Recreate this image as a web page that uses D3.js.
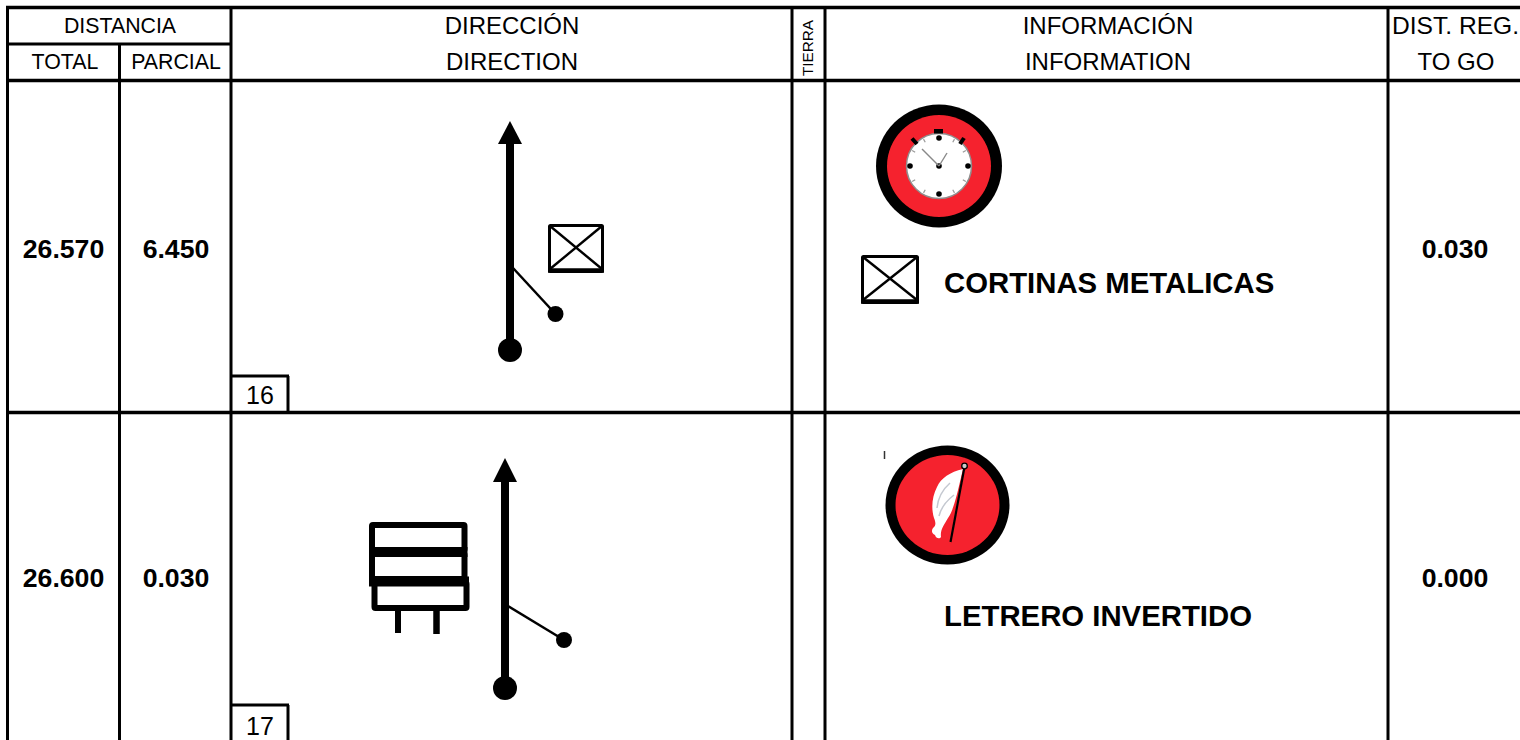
<!DOCTYPE html>
<html>
<head>
<meta charset="utf-8">
<script src="https://cdnjs.cloudflare.com/ajax/libs/d3/7.8.5/d3.min.js"></script>
<style>
html,body{margin:0;padding:0;background:#fff;overflow:hidden}
svg{display:block}
text{font-family:"Liberation Sans",Arial,sans-serif;fill:#000}
</style>
</head>
<body>
<svg id="chart" width="1520" height="740"></svg>
<script>
const totals = ["26.570", "26.600"];
const parciales = ["6.450", "0.030"];
const toGo = ["0.030", "0.000"];
const notes = ["CORTINAS METALICAS", "LETRERO INVERTIDO"];
const boxNumbers = ["16", "17"];
const headerTop = ["DISTANCIA", "DIRECCIÓN", "INFORMACIÓN", "DIST. REG."];
const headerBottom = ["TOTAL", "PARCIAL", "DIRECTION", "INFORMATION", "TO GO"];
const landLabel = "TIERRA";

const svg = d3.select("#chart");
const bold = 26.67, noteSize = 29.33;
const L = (s, x1, y1, x2, y2, w = 3) => s.append("line").attr("x1", x1).attr("y1", y1).attr("x2", x2).attr("y2", y2).attr("stroke", "#000").attr("stroke-width", w);
const T = (s, t, x, y, size, o = {}) => s.append("text").text(t).attr("x", x).attr("y", y).attr("font-size", size)
  .attr("text-anchor", o.anchor || "middle").attr("font-weight", o.weight || "normal");
const R = (s, x, y, w, h, sw, fill = "none") => s.append("rect").attr("x", x).attr("y", y).attr("width", w).attr("height", h)
  .attr("fill", fill).attr("stroke", "#000").attr("stroke-width", sw);
const C = (s, x, y, r, fill = "#000") => s.append("circle").attr("cx", x).attr("cy", y).attr("r", r).attr("fill", fill);

/* grid */
const g = svg.append("g");
L(g, 6, 7.5, 1520, 7.5, 3.4);
L(g, 6, 80.5, 1520, 80.5, 3.4);
L(g, 8, 44, 231, 44, 3);
L(g, 6, 412.5, 1520, 412.5, 3.4);
[7.5, 231, 792, 825, 1388].forEach(x => L(g, x, 6, x, 740, 3));
L(g, 119.5, 44, 119.5, 740, 3);

/* headers */
const hTopX = [120, 512, 1108, 1392];
const hTopSize = [21.33, 24, 24, 24.6];
headerTop.forEach((t, i) => T(svg, t, hTopX[i], 33 + (i ? 0.5 : 0), hTopSize[i], {anchor: i === 3 ? "start" : "middle"}));
const hBotX = [65, 176, 512, 1108, 1456];
const hBotSize = [21.33, 21.33, 24, 24, 24];
headerBottom.forEach((t, i) => T(svg, t, hBotX[i], 69 + (i > 1 ? 1 : 0), hBotSize[i]));
T(svg, landLabel, 0, 0, 15.3).attr("transform", "translate(813,48) rotate(-90)");

/* rows */
const baseY = [258, 587], noteY = [293, 626], boxTop = [376, 705], boxBase = [404, 735];
totals.forEach((t, i) => {
  T(svg, t, 63.5, baseY[i], bold, {weight: "bold"});
  T(svg, parciales[i], 176, baseY[i], bold, {weight: "bold"});
  T(svg, toGo[i], 1455, baseY[i], bold, {weight: "bold"});
  T(svg, notes[i], 944, noteY[i], noteSize, {anchor: "start", weight: "bold"});
  L(svg, 231, boxTop[i], 289, boxTop[i], 3);
  L(svg, 288, boxTop[i], 288, i === 1 ? 740 : 412, 3);
  T(svg, boxNumbers[i], 260, boxBase[i], 25);
});

/* route arrows */
function route(x, tip, base, footY, endX, endY, startY) {
  const s = svg.append("g");
  L(s, x, base - 1, x, footY, 8);
  s.append("path").attr("d", d3.line()([[x, tip], [x + 12, base], [x - 12, base]]) + "Z").attr("fill", "#000");
  C(s, x, footY, 12);
  L(s, x + 3, startY, endX, endY, 2.5);
  C(s, endX, endY, 8);
}
route(510, 121, 144, 350, 555.5, 314, 268);
route(505, 458, 482, 688, 564, 640, 606);

/* crossed box */
function crossed(x, y, w, h) {
  const s = svg.append("g");
  R(s, x + 1.5, y + 1.5, w - 3, h - 3, 3).attr("rx", 1);
  L(s, x, y + h - 2.5, x + w, y + h - 2.5, 4.5);
  L(s, x + 2, y + 2, x + w - 2, y + h - 4, 2.4);
  L(s, x + w - 2, y + 2, x + 2, y + h - 4, 2.4);
}
crossed(548, 224, 56, 49);
crossed(861, 255, 58, 49);

/* sign boards */
const sg = svg.append("g");
R(sg, 372, 525, 92.5, 25, 6).attr("rx", 1);
R(sg, 372, 554, 92.5, 25, 6).attr("rx", 1);
R(sg, 374.5, 583, 92, 25, 6).attr("rx", 1);
L(sg, 369, 552, 467.5, 552, 10);
L(sg, 369, 581.5, 469, 581.5, 10);
L(sg, 398, 610, 398, 633, 6);
L(sg, 436.5, 610, 436.5, 634, 6.5);

/* badges */
const defs = svg.append("defs");
defs.append("filter").attr("id", "soft").append("feGaussianBlur").attr("stdDeviation", 0.5);
const red = "#f5222d";

const clock = svg.append("g").attr("filter", "url(#soft)");
clock.append("ellipse").attr("cx", 939).attr("cy", 166).attr("rx", 63).attr("ry", 61.5).attr("fill", "#000");
clock.append("ellipse").attr("cx", 939).attr("cy", 166).attr("rx", 52).attr("ry", 51).attr("fill", red);
C(clock, 939, 166, 32.5, "#fff").attr("stroke", "#8f8f8f").attr("stroke-width", 1.5);
R(clock, 934, 129, 9, 4.5, 0, "#000");
L(clock, 912, 138.5, 917, 144, 4);
L(clock, 964, 138, 960, 144, 4);
[[939, 138], [939, 194], [910, 166], [968, 166], [939, 166]].forEach(p => C(clock, p[0], p[1], 2.8));
const clockTicks = [30, 60, 120, 150, 210, 240, 300, 330];
clockTicks.forEach(a => {
  const r = a * Math.PI / 180;
  L(clock, 939 + 31 * Math.sin(r), 166 - 31 * Math.cos(r), 939 + 27.5 * Math.sin(r), 166 - 27.5 * Math.cos(r), 1.2).attr("stroke", "#999");
});
L(clock, 939, 166, 922, 149, 1.4).attr("stroke", "#888");
L(clock, 939, 166, 947, 153, 1.4).attr("stroke", "#888");

const flag = svg.append("g").attr("filter", "url(#soft)");
flag.append("ellipse").attr("cx", 947.5).attr("cy", 505).attr("rx", 62).attr("ry", 59.5).attr("fill", "#000");
flag.append("ellipse").attr("cx", 947.5).attr("cy", 505).attr("rx", 52).attr("ry", 50).attr("fill", red);
flag.append("path").attr("d", "M963 469 C950 472 941 478 937 487 C932 497 931 508 934 518 C936 523 936 526 933 528 C931 531 932 534 935 535 C936 539 940 539 941 537 C940 530 944 525 948 518 C954 510 958 490 963 469 Z").attr("fill", "#fff");
flag.append("path").attr("d", "M937 508 C938 498 942 490 950 483 M939 516 C941 508 946 501 954 495").attr("fill", "none").attr("stroke", "#c4c8d0").attr("stroke-width", 1.5);
L(flag, 964.5, 467, 950.5, 542, 2.2);
C(flag, 964.5, 466, 2.8, "#ccc").attr("stroke", "#000").attr("stroke-width", 1.3);
L(svg, 884.5, 451, 884.5, 459, 1.5).attr("stroke", "#333");
</script>
</body>
</html>
